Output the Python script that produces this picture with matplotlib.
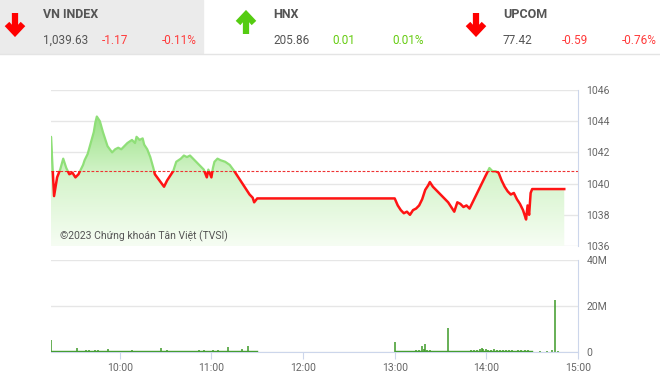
import numpy as np
import matplotlib.pyplot as plt
from matplotlib.colors import LinearSegmentedColormap
from matplotlib.patches import Rectangle

plt.rcParams['font.family'] = ['Roboto', 'DejaVu Sans']

# header values
names = ['VN INDEX', 'HNX', 'UPCOM']
closes = ['1,039.63', '205.86', '77.42']
changes = ['-1.17', '0.01', '-0.59']
pct = ['-0.11%', '0.01%', '-0.76%']
ups = [False, True, False]

ref_price = 1040.80

# VN-Index intraday (time, value)
price_times = ['09:15', '09:15', '09:17', '09:19', '09:21', '09:23', '09:25', '09:27', '09:29',
               '09:31', '09:33', '09:34', '09:36', '09:37', '09:39', '09:41', '09:43', '09:44',
               '09:45', '09:47', '09:49', '09:52', '09:55', '09:57', '09:59', '10:01', '10:03',
               '10:05', '10:08', '10:10', '10:11', '10:13', '10:15', '10:16', '10:18', '10:20',
               '10:22', '10:23', '10:26', '10:29', '10:31', '10:33', '10:35', '10:37', '10:40',
               '10:42', '10:44', '10:46', '10:49', '10:52', '10:55', '10:57', '10:58', '11:00',
               '11:01', '11:02', '11:04', '11:06', '11:09', '11:12', '11:15', '11:17', '11:19',
               '11:21', '11:23', '11:25', '11:27', '11:28', '11:30', '13:00', '13:02', '13:04',
               '13:06', '13:08', '13:10', '13:12', '13:14', '13:16', '13:18', '13:20', '13:22',
               '13:23', '13:25', '13:27', '13:29', '13:31', '13:33', '13:35', '13:37', '13:39',
               '13:41', '13:43', '13:45', '13:47', '13:49', '13:51', '13:53', '13:55', '13:57',
               '13:59', '14:01', '14:02', '14:04', '14:06', '14:08', '14:10', '14:12', '14:14',
               '14:16', '14:18', '14:20', '14:22', '14:24', '14:25', '14:26', '14:27', '14:28',
               '14:29', '14:30', '14:51']
price_vals = [1041.8, 1043.0, 1039.2, 1040.4, 1040.9, 1041.6, 1041.0, 1040.6, 1040.7,
              1040.4, 1040.6, 1040.8, 1041.2, 1041.5, 1041.9, 1042.6, 1043.3, 1043.9,
              1044.3, 1044.0, 1043.3, 1042.4, 1042.0, 1042.2, 1042.3, 1042.2, 1042.4,
              1042.6, 1042.8, 1042.6, 1043.0, 1042.8, 1042.9, 1042.5, 1042.2, 1041.7,
              1041.0, 1040.6, 1040.2, 1039.8, 1040.2, 1040.5, 1040.8, 1041.4, 1041.6,
              1041.8, 1041.7, 1041.8, 1041.5, 1041.2, 1040.9, 1040.4, 1040.9, 1040.4,
              1041.0, 1041.4, 1041.6, 1041.5, 1041.4, 1041.2, 1040.8, 1040.5, 1040.2,
              1039.9, 1039.6, 1039.3, 1039.1, 1038.8, 1039.05, 1039.05, 1038.6, 1038.3,
              1038.1, 1038.2, 1038.0, 1038.3, 1038.4, 1038.6, 1039.0, 1039.6, 1039.9,
              1040.1, 1039.8, 1039.6, 1039.4, 1039.2, 1039.0, 1038.8, 1038.5, 1038.2,
              1038.8, 1038.7, 1038.5, 1038.6, 1038.4, 1038.8, 1039.2, 1039.6, 1040.0,
              1040.4, 1040.8, 1041.0, 1040.8, 1040.8, 1040.7, 1040.2, 1039.8, 1039.5,
              1039.3, 1039.4, 1039.0, 1038.7, 1038.3, 1038.0, 1037.7, 1038.6, 1038.0,
              1039.4, 1039.65, 1039.65]

# volume (time, millions)
vol_times = ['09:15', '09:17', '09:20', '09:24', '09:27', '09:30', '09:32', '09:35', '09:38',
             '09:40', '09:42', '09:44', '09:46', '09:49', '09:52', '09:55', '09:58', '10:02',
             '10:05', '10:08', '10:10', '10:13', '10:16', '10:19', '10:22', '10:25', '10:27',
             '10:31', '10:34', '10:37', '10:40', '10:43', '10:46', '10:49', '10:52', '10:55',
             '10:58', '11:01', '11:04', '11:07', '11:11', '11:13', '11:16', '11:20', '11:22',
             '11:24', '11:27', '11:29',
             '13:00', '13:02', '13:05', '13:08', '13:10', '13:12', '13:14', '13:16', '13:18',
             '13:19', '13:20', '13:21', '13:23', '13:25', '13:27', '13:30', '13:33', '13:35',
             '13:38', '13:40', '13:43', '13:46', '13:48', '13:50', '13:52', '13:54', '13:56',
             '13:57', '13:58', '14:00', '14:01', '14:03', '14:05', '14:07', '14:09', '14:11',
             '14:13', '14:15', '14:17', '14:19', '14:21', '14:23', '14:25', '14:27', '14:29',
             '14:35', '14:40', '14:43', '14:45', '14:47']
vol_vals = [5.3, 0.4, 0.3, 0.3, 0.4, 0.5, 1.6, 0.5, 0.8,
            0.7, 0.6, 0.9, 0.8, 0.5, 1.2, 0.4, 0.5, 0.6,
            0.5, 0.7, 0.5, 0.4, 0.6, 0.5, 0.4, 0.6, 1.9,
            0.7, 0.5, 0.4, 0.6, 0.3, 0.5, 0.4, 0.7, 0.8,
            0.5, 0.7, 1.0, 0.6, 2.3, 0.4, 0.6, 1.3, 0.5,
            2.6, 0.4, 0.3,
            4.5, 0.3, 0.2, 0.4, 0.5, 0.6, 0.8, 0.9, 2.6,
            1.2, 3.5, 1.0, 0.8, 0.6, 0.5, 0.3, 0.4, 10.5,
            0.6, 0.3, 0.4, 0.5, 0.6, 0.8, 0.9, 1.0, 1.2,
            1.8, 1.5, 1.3, 1.0, 0.9, 1.1, 0.8, 1.0, 0.9,
            0.7, 0.8, 0.9, 0.6, 0.8, 0.7, 0.9, 1.0, 0.5,
            0.3, 0.4, 0.8, 22.8, 0.6]

x_ticks = ['10:00', '11:00', '12:00', '13:00', '14:00', '15:00']


def to_h(s):
    h, m = s.split(':')
    return int(h) + int(m) / 60


px = np.array([to_h(t) for t in price_times])
py = np.array(price_vals)
vx = np.array([to_h(t) for t in vol_times])
vy = np.array(vol_vals)

W, H = 660, 378
fig = plt.figure(figsize=(6.6, 3.78), dpi=100)

# header overlay in pixel coords
hdr = fig.add_axes([0, 0, 1, 1])
hdr.set_xlim(0, W)
hdr.set_ylim(H, 0)
hdr.axis('off')
hdr.add_patch(Rectangle((0, 0), 203, 53, color='#ebebeb', zorder=0))
hdr.plot([0, W], [53.5, 53.5], color='#e4e4e4', lw=1)

cols_x = [43, 273, 503]
arrow_x = [15, 246, 476]
txt_grey = '#555555'
red = '#ff3b3b'
green = '#66cc11'
for i in range(3):
    ax0 = cols_x[i]
    hdr.text(ax0, 15, names[i], fontsize=9, fontweight='bold', color=txt_grey,
             va='center', ha='left')
    hdr.text(ax0, 40, closes[i], fontsize=8.5, color=txt_grey, va='center', ha='left')
    c = green if ups[i] else red
    hdr.text(ax0 + 59, 40, changes[i], fontsize=8.5, color=c, va='center', ha='left')
    hdr.text(ax0 + 119, 40, pct[i], fontsize=8.5, color=c, va='center', ha='left')
    cx = arrow_x[i]
    if ups[i]:
        hdr.plot([cx, cx], [34, 15], color='#55cc11', lw=4.5, solid_capstyle='butt')
        hdr.plot([cx - 8, cx, cx + 8], [23, 14.5, 23], color='#55cc11', lw=4.5,
                 solid_joinstyle='miter', solid_capstyle='butt')
    else:
        hdr.plot([cx, cx], [13, 32], color='#ff0000', lw=4.5, solid_capstyle='butt')
        hdr.plot([cx - 8, cx, cx + 8], [24, 32.5, 24], color='#ff0000', lw=4.5,
                 solid_joinstyle='miter', solid_capstyle='butt')

x0, x1 = 9.25, 15.0
grid_c = '#e6e6e6'
axis_c = '#ccd6eb'
lab_c = '#666666'

# price panel
ax = fig.add_axes([51 / W, 1 - 246 / H, 527 / W, 156 / H])
ax.set_xlim(x0, x1)
ax.set_ylim(1036, 1046)
for s in ['left', 'top', 'bottom']:
    ax.spines[s].set_visible(False)
ax.spines['right'].set_color(axis_c)
ax.set_yticks(np.arange(1036, 1047, 2))
ax.yaxis.tick_right()
ax.tick_params(axis='y', length=0, labelsize=7.5, labelcolor=lab_c, pad=6)
ax.set_xticks([])
ax.grid(axis='y', color=grid_c, lw=1)
ax.set_axisbelow(True)

fill = ax.fill_between(px, py, 1036, color='none', lw=0)
cmap = LinearSegmentedColormap.from_list('g', ['#f6fdf3', '#d5f4cb', '#8edd78'])
grad = np.linspace(0, 1, 256).reshape(-1, 1)
img = ax.imshow(grad, cmap=cmap, aspect='auto', origin='lower',
                extent=[x0, x1, 1036, 1045], zorder=1)
img.set_clip_path(fill.get_paths()[0], transform=ax.transData)
ax.set_xlim(x0, x1)
ax.set_ylim(1036, 1046)

ln_g, = ax.plot(px, py, color='#8fdf78', lw=1.6, zorder=3)
ln_g.set_clip_path(Rectangle((x0, ref_price), x1 - x0, 10, transform=ax.transData))
ln_r, = ax.plot(px, py, color='#ff1414', lw=1.8, zorder=3)
ln_r.set_clip_path(Rectangle((x0, 1030), x1 - x0, ref_price - 1030, transform=ax.transData))
ax.axhline(ref_price, color='#e33', lw=0.8, ls=(0, (2.5, 1.5)), zorder=2)

ax.text(9.35, 1036.45, '©2023 Chứng khoán Tân Việt (TVSI)', fontsize=7.5,
        color='#555555', zorder=4)

# volume panel
av = fig.add_axes([51 / W, 1 - 352 / H, 527 / W, 92 / H])
av.set_xlim(x0, x1)
av.set_ylim(0, 40)
for s in ['left', 'top']:
    av.spines[s].set_visible(False)
av.spines['right'].set_color(axis_c)
av.spines['bottom'].set_color(axis_c)
av.set_yticks([0, 20, 40])
av.set_yticklabels(['0', '20M', '40M'])
av.yaxis.tick_right()
av.tick_params(axis='y', length=0, labelsize=7.5, labelcolor=lab_c, pad=6)
av.set_xticks([to_h(t) for t in x_ticks])
av.set_xticklabels(x_ticks)
av.tick_params(axis='x', length=5, color=axis_c, labelsize=7.5, labelcolor=lab_c, pad=3)
av.grid(axis='y', color=grid_c, lw=1)
av.set_axisbelow(True)
av.vlines(vx, 0, vy, color='#3d9a27', lw=1.1)
# thin baseline of tiny minute bars during trading sessions
av.plot([9.25, 11.5], [0.25, 0.25], color='#3d9a27', lw=1, zorder=1)
av.plot([13.0, 14.5], [0.25, 0.25], color='#3d9a27', lw=1, zorder=1)

fig.savefig('out.png', dpi=100)
